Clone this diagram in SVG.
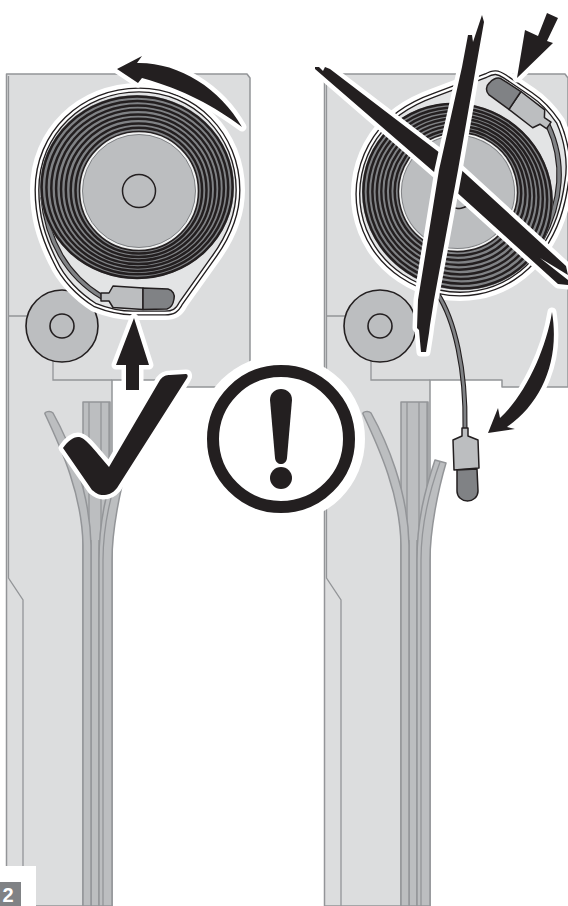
<svg xmlns="http://www.w3.org/2000/svg" xmlns:xlink="http://www.w3.org/1999/xlink" width="568" height="906" viewBox="0 0 568 906">
<style>
.body{fill:#dcddde;stroke:#939598;stroke-width:1.5;stroke-linejoin:round}
.line{fill:none;stroke:#939598;stroke-width:1.3}
.strand{fill:#bcbec0;stroke:#939598;stroke-width:1.5;stroke-linejoin:round}
.k{fill:#231f20}
.halo{fill:#231f20;stroke:#fff;stroke-width:9;stroke-linejoin:round;paint-order:stroke}
.ring{fill:none;stroke:#231f20;stroke-width:2.5}
.hole{fill:none;stroke:#231f20;stroke-width:1.6}
.part{stroke:#231f20;stroke-width:1.5;stroke-linejoin:round}
</style>
<defs>
<path id="tear" d="M-102,-1C-102,-58 -57,-101 0,-101C56,-101 99,-56 99,-1C99,25 88,48 74,67L42,112C38,120 34,122 26,122L-6,122C-20,122 -34,118 -44,114C-60,104 -76,88 -84,70C-96,46 -102,25 -102,-1Z"/>
<g id="base">
<path class="body" d="M6.5,74H247L250,78V387H184V380H112V906H6.5Z"/>
<path class="line" d="M8.5,76V578L23,600V906M8,316H28M53,352V380H112"/>
<path class="strand" d="M83,906V402H110V906Z"/>
<path class="line" d="M89,402V540M101,402V540M109,402V540M91,540V906M99,540V906M103,540V906"/>
<path class="strand" d="M45,414C44,412 50,410 53,413C68,440 90,490 91,545V906H83V545C82,495 62,450 45,414Z"/>
<path class="strand" d="M117,460L128,463C120,490 112,530 112,560V906H99V560C99,520 107,490 117,460Z"/>
<path class="line" d="M122,462C110,495 103,530 103,560V906"/>
<g id="smallreel"><circle cx="62" cy="326" r="36" fill="#bcbec0" stroke="#231f20" stroke-width="1.6"/><circle class="hole" cx="62" cy="326" r="12"/></g>
</g>
<g id="reel">
<use xlink:href="#tear" href="#tear" fill="none" stroke="#fff" stroke-width="14"/>
<use xlink:href="#tear" href="#tear" fill="#e3e4e5" stroke="#231f20" stroke-width="5"/>
<use xlink:href="#tear" href="#tear" fill="none" stroke="#fff" stroke-width="2.3"/>
<path d="M-96,6C-92,50 -72,85 -37,106" fill="none" stroke="#231f20" stroke-width="5.5"/>
<path d="M-96,6C-92,50 -72,85 -37,106" fill="none" stroke="#808285" stroke-width="3.2"/>
<ellipse cx="-2" cy="-4" rx="97" ry="92" fill="#808285"/>
<ellipse class="ring" cx="-1.9" cy="-3.8" rx="95.5" ry="90.7"/>
<ellipse class="ring" cx="-1.7" cy="-3.4" rx="90.9" ry="86.7"/>
<ellipse class="ring" cx="-1.4" cy="-2.8" rx="86.3" ry="82.7"/>
<ellipse class="ring" cx="-1.2" cy="-2.4" rx="81.7" ry="78.8"/>
<ellipse class="ring" cx="-.9" cy="-1.8" rx="77.1" ry="74.8"/>
<ellipse class="ring" cx="-.7" cy="-1.4" rx="72.5" ry="70.8"/>
<ellipse class="ring" cx="-.4" cy="-.8" rx="67.9" ry="66.8"/>
<ellipse class="ring" cx="-.2" cy="-.4" rx="63.3" ry="62.9"/>
<circle r="59.5" fill="#f1f2f2" stroke="#231f20" stroke-width="1.6"/>
<circle r="56.5" fill="#bcbec0" stroke="#808285" stroke-width="1"/>
<circle class="part" r="16.5" fill="none"/>
<path class="part" fill="#bcbec0" d="M-38,102V110H-30L-26,116.5L4,118.5V97L-26,95L-30,102Z"/>
<path class="part" fill="#808285" d="M4,97L29,98C34,99 36,104 35,108C34,114 32,117 28,118L4,118.5Z"/>
</g>
</defs>
<g id="left-panel"><use xlink:href="#base" href="#base"/></g>
<g id="right-panel"><use xlink:href="#base" href="#base" transform="translate(318,0)"/></g>
<g id="left-reel"><use xlink:href="#reel" href="#reel" transform="translate(139,191)"/></g>
<g id="right-reel">
<use xlink:href="#reel" href="#reel" transform="translate(458,192) rotate(-146)"/>
<path d="M437,293C455,320 466,370 465,428" fill="none" stroke="#231f20" stroke-width="5"/>
<path d="M437,293C455,320 466,370 465,428" fill="none" stroke="#808285" stroke-width="2.8"/>
</g>
<g id="loose-connector">
<path class="part" fill="#bcbec0" d="M462,428H468V436L478,440L479,468L454,470L453,440L462,436Z"/>
<path class="part" fill="#808285" d="M457,470L477,469L478,491C478,497 473,501 467.500,501C462,501 457,497 457,491Z"/>
</g>
<g id="connectors">
<path class="halo" d="M117,69L142,56L137,63C178,62 220,88 242,127C214,106 185,90 142,78L138,83Z"/>
<path class="halo" d="M134,318L149,365H139V390H126V365H116Z"/>
<path class="halo" d="M517,78L525,30L538,36L547,13L558,18L547,41L553,43Z"/>
<path class="halo" d="M552,312C546,350 525,395 500,418L498,408L488,433L515,429L507,427C542,403 560,360 552,312Z"/>
</g>
<g id="check"><path class="halo" d="M63,448C68,441 73,437 78,437C84,437 88,442 109,467L160,380C163,376 166,375 170,375L186,374C188,374 188,377 187,378L117,488C112,494 108,495 103,495C99,495 97,494 92,490Z"/></g>
<g id="cross">
<path class="halo" d="M315,67L319,67L323,71L325,67L330,69L457,166L566,266L568,275L540,258L568,280V285L558,284L441,178L315,69Z"/>
<path class="halo" d="M482,15L484,22L476,67L458,170L434,300L430,325L429,333L426,352H421L419,330L417,328L418,300L439,170L462,67L468,35L472,35L473,42L477,30Z"/>
</g>
<g id="warning">
<circle cx="281" cy="439" r="84" fill="#fff"/>
<circle cx="281" cy="439" r="68" fill="#fff" stroke="#231f20" stroke-width="12"/>
<path class="k" d="M270,400C270,393 275,389 281,389C287,389 292,393 292,400L287,458C286,466 276,466 275,458Z"/>
<circle class="k" cx="281" cy="478" r="11"/>
</g>
<g id="label">
<rect x="0" y="866" width="36" height="40" fill="#fff"/>
<rect x="0" y="882" width="21" height="24" fill="#808285"/>
<text x="2.500" y="902" font-family="Liberation Sans, Arial, sans-serif" font-weight="700" font-size="20" fill="#fff">2</text>
</g>
</svg>
